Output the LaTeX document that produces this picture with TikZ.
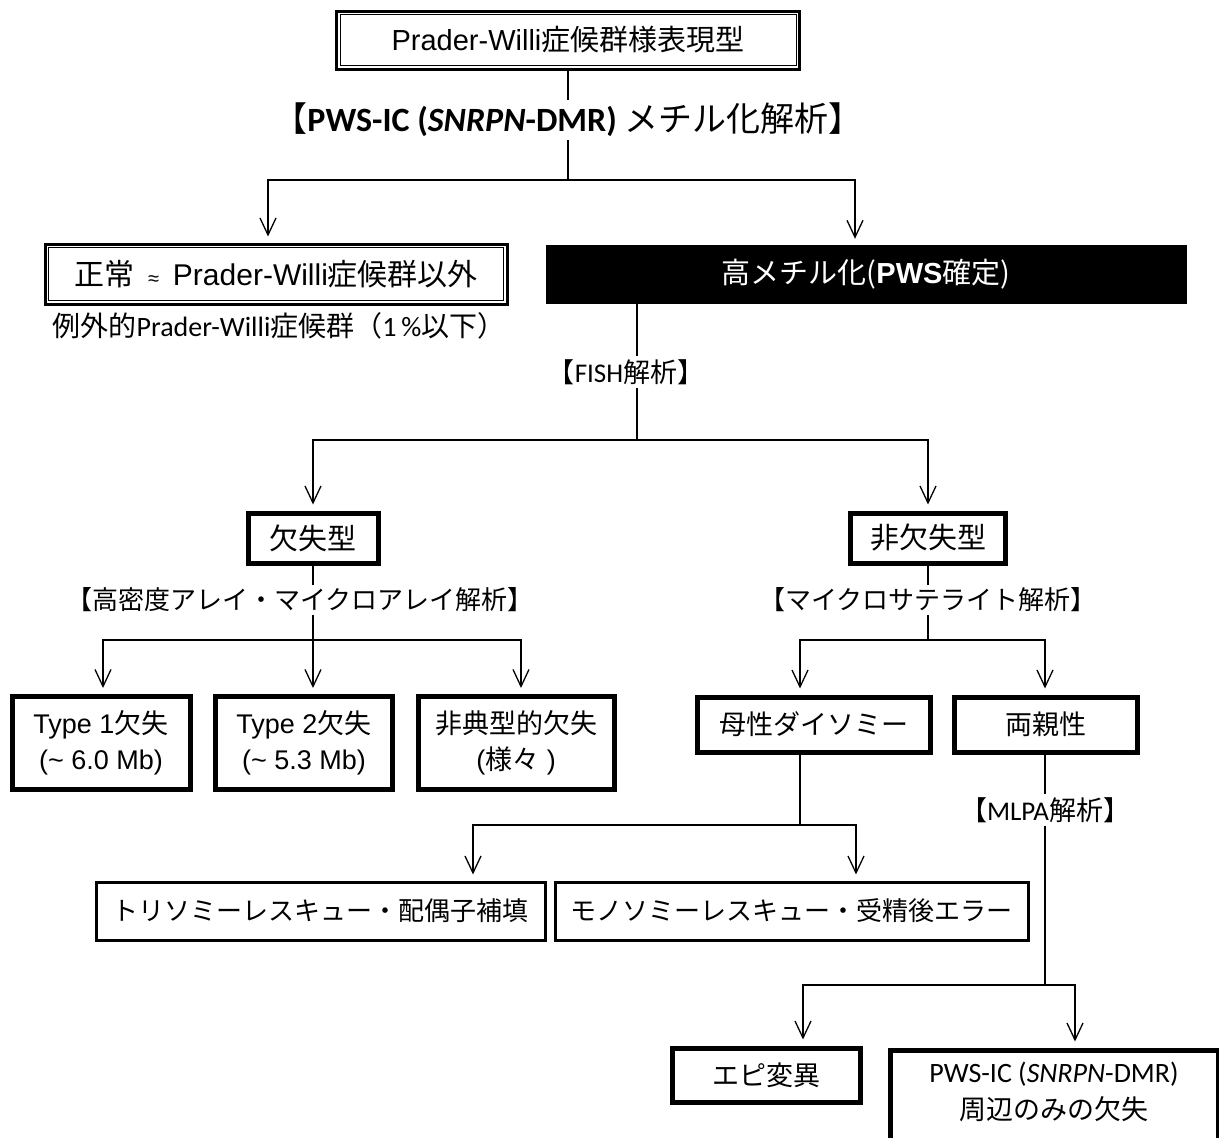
\documentclass[tikz,border=0pt]{standalone}
\usepackage{fontspec}
\setmainfont{Noto Sans CJK JP}
\newfontfamily\ar{Liberation Sans}
\newfontfamily\ca{Carlito}
\usetikzlibrary{arrows.meta}
\begin{document}
\begin{tikzpicture}[x=1pt,y=-1pt,
  conn/.style={line width=1.3pt},
  arr/.style={conn,-{Straight Barb[length=17pt,width=16pt,line width=1.3pt]}},
  tbox/.style={draw,line width=5pt,inner sep=0pt,align=center,font=\fontsize{27}{36}\selectfont},
  mbox/.style={draw,line width=3pt,inner sep=0pt,align=center,font=\fontsize{26}{32}\selectfont},
  dbox/.style={draw,line width=3pt,inner sep=0pt,align=center,font=\fontsize{28}{32}\selectfont},
  lbl/.style={inner sep=3pt,font=\fontsize{26}{30}\selectfont},
]
\useasboundingbox (0,0) rectangle (1219,1138);

% top
\node[dbox,minimum width=463pt,minimum height=58pt,font=\fontsize{29}{32}\selectfont] (top) at (568,40) {{\ar Prader-Willi}症候群様表現型};
\draw[line width=1pt] ([shift={(5,5)}]top.north west) rectangle ([shift={(-5,-5)}]top.south east);
\node[lbl,font=\fontsize{34}{36}\selectfont] (l1) at (568,120) {【{\ca\bfseries PWS-IC (\textit{SNRPN}-DMR)} メチル化解析】};
\coordinate (j1) at (568,180);
\draw[conn] (top.south) -- (l1.north);
\draw[conn] (l1.south) -- (j1);

% level 1
\node[dbox,minimum width=462pt,minimum height=60pt,font=\fontsize{30}{32}\selectfont] (norm) at (276,274) {正常\hspace{14pt}{\ar\fontsize{20}{20}\selectfont ≈}\hspace{14pt}{\ar Prader-Willi}症候群以外};
\draw[line width=1pt] ([shift={(5,5)}]norm.north west) rectangle ([shift={(-5,-5)}]norm.south east);
\node[lbl,font=\fontsize{28}{30}\selectfont] (note) at (279,326) {例外的{\ca Prader-Willi}症候群（{\ca 1\,\%}以下）};
\node[fill=black,draw=black,inner sep=0pt,minimum width=640pt,minimum height=58pt,text=white,font=\fontsize{29}{32}\selectfont] (bb) at (866,274) {高メチル化({\ar\bfseries PWS}確定)};
\draw[arr] (j1) -| ([xshift=-8pt,yshift=6pt]norm.north);
\draw[arr] (j1) -| ([xshift=-11pt,yshift=6pt]bb.north);

% FISH
\node[lbl,font=\fontsize{27}{30}\selectfont] (fish) at (626,372) {【{\ca FISH}解析】};
\coordinate (j2) at (637,440);
\draw[conn] (j2 |- bb.south) -- (j2 |- fish.north);
\draw[conn] (j2 |- fish.south) -- (j2);

\node[tbox,minimum width=130pt,minimum height=50pt,font=\fontsize{29}{34}\selectfont] (del) at (313,538) {欠失型};
\node[tbox,minimum width=155pt,minimum height=50pt,font=\fontsize{29}{34}\selectfont] (ndel) at (928,538) {非欠失型};
\draw[arr] (j2) -| ([yshift=6pt]del.north);
\draw[arr] (j2) -| ([yshift=6pt]ndel.north);

% deletion branch
\node[lbl] (arrl) at (300,600) {【高密度アレイ・マイクロアレイ解析】};
\coordinate (j3) at (313,640);
\draw[conn] (del.south) -- (j3 |- arrl.north);
\draw[conn] (j3 |- arrl.south) -- (j3);
\node[tbox,minimum width=178pt,minimum height=93pt] (t1) at (101,743) {{\ar Type 1}欠失\\{\ar (\textasciitilde\ 6.0 Mb)}};
\node[tbox,minimum width=177pt,minimum height=93pt] (t2) at (304,743) {{\ar Type 2}欠失\\{\ar (\textasciitilde\ 5.3 Mb)}};
\node[tbox,minimum width=196pt,minimum height=93pt] (t3) at (516,743) {非典型的欠失\\{\ar (}様々{\ar\ )}};
\draw[arr] (j3) -| ([xshift=2pt,yshift=6pt]t1.north);
\draw[arr] (j3) -- ([xshift=9pt,yshift=6pt]t2.north);
\draw[arr] (j3) -| ([xshift=5pt,yshift=6pt]t3.north);

% non-deletion branch
\node[lbl] (micro) at (928,600) {【マイクロサテライト解析】};
\coordinate (j4) at (928,640);
\draw[conn] (ndel.south) -- (micro.north);
\draw[conn] (micro.south) -- (j4);
\node[tbox,minimum width=233pt,minimum height=55pt] (upd) at (813.5,724.5) {母性ダイソミー};
\node[tbox,minimum width=183pt,minimum height=55pt] (bip) at (1046,724.5) {両親性};
\draw[arr] (j4) -| ([xshift=-13.5pt,yshift=6pt]upd.north);
\draw[arr] (j4) -| ([xshift=-1pt,yshift=6pt]bip.north);

% UPD mechanisms
\coordinate (j5) at (800,825);
\draw[conn] (j5 |- upd.south) -- (j5);
\node[mbox,minimum width=449pt,minimum height=58pt] (tri) at (320.5,911) {トリソミーレスキュー・配偶子補填};
\node[mbox,minimum width=473pt,minimum height=58pt] (mono) at (791.5,911) {モノソミーレスキュー・受精後エラー};
\draw[arr] (j5) -| ([xshift=152.5pt,yshift=6pt]tri.north);
\draw[arr] (j5) -| ([xshift=64.5pt,yshift=6pt]mono.north);

% biparental
\node[lbl,font=\fontsize{27}{30}\selectfont] (mlpa) at (1045,810) {【{\ca MLPA}解析】};
\coordinate (j6) at (1045,985);
\draw[conn] (mlpa.north |- bip.south) -- (mlpa.north);
\draw[conn] (mlpa.south) -- (j6);
\node[tbox,minimum width=188pt,minimum height=54pt] (epi) at (766,1075) {エピ変異};
\node[tbox,minimum width=328pt,minimum height=96pt] (icdel) at (1054,1098) {};
\node[inner sep=0pt,align=center,font=\fontsize{27}{37}\selectfont] (icdeltext) at (1054,1092) {{\ca\fontsize{28}{37}\selectfont PWS-IC (\textit{SNRPN}-DMR)}\\周辺のみの欠失};
\draw[arr] (j6) -| ([xshift=37pt,yshift=6pt]epi.north);
\draw[arr] (j6) -| ([xshift=21pt,yshift=6pt]icdel.north);
\end{tikzpicture}
\end{document}
